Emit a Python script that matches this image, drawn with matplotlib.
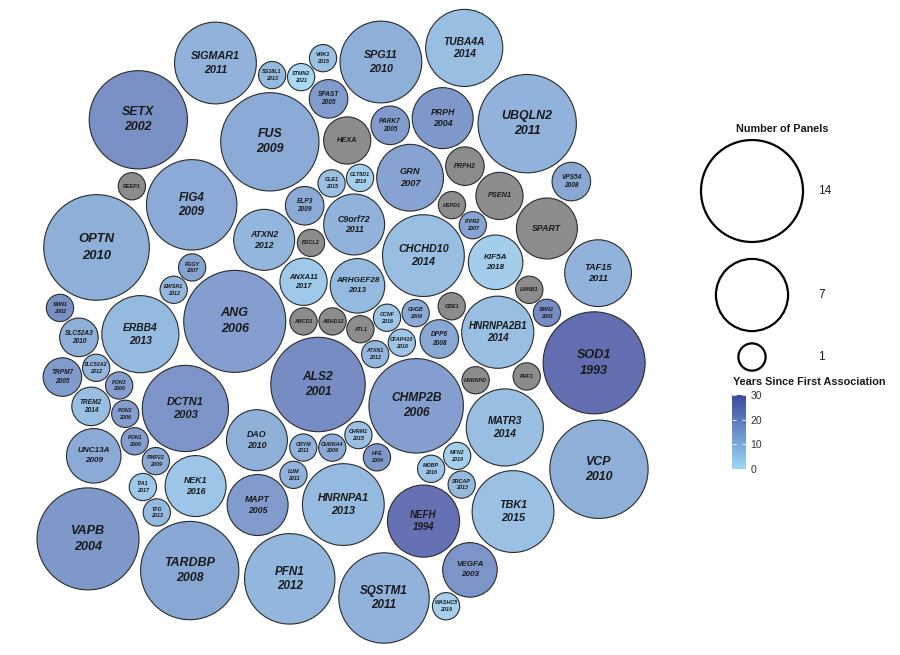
import numpy as np
import matplotlib
matplotlib.use("Agg")
import matplotlib.pyplot as plt
from matplotlib.patches import Circle
from matplotlib.colors import LinearSegmentedColormap, Normalize
from matplotlib.cm import ScalarMappable

plt.rcParams['font.family'] = ['Liberation Sans', 'DejaVu Sans']

# genes in alphabetical order (the packing places them in this order)
genes = ["ABCD1", "ABHD12", "ALS2", "ANG", "ANXA11", "ARHGEF28", "ATL1", "ATXN1",
         "ATXN2", "BSCL2", "C9orf72", "CCNF", "CFAP410", "CHCHD10", "CHGB", "CHMP2B",
         "CHRM1", "CHRNA4", "CRYM", "DAO", "DCTN1", "DPP6", "ELP3", "ERBB4", "EWSR1",
         "FGGY", "FIG4", "FUS", "GBE1", "GLE1", "GLT8D1", "GRN", "HEXA", "HFE",
         "HNRNPA1", "HNRNPA2B1", "HNRNPD", "HSPD1", "ITPR2", "KIF5A", "LMNB1", "LUM",
         "MAPT", "MATR3", "MFN2", "MOBP", "NEFH", "NEK1", "OPTN", "PARK7", "PFN1",
         "PMP22", "PON1", "PON2", "PON3", "PRF1", "PRPH", "PRPH2", "PSEN1", "REEP1",
         "SETX", "SIGMAR1", "SLC52A2", "SLC52A3", "SMN1", "SMN2", "SOD1", "SPART",
         "SPAST", "SPG11", "SQSTM1", "SRCAP", "SS18L1", "STMN2", "TAF15", "TARDBP",
         "TBK1", "TFG", "TIA1", "TREM2", "TRPM7", "TUBA4A", "UBQLN2", "UNC13A", "VAPB",
         "VCP", "VEGFA", "VPS54", "VRK1", "WASHC5"]

panels = [1, 1, 12, 14, 3, 4, 1, 1,
          5, 1, 5, 1, 1, 9, 1, 12,
          1, 1, 1, 5, 10, 2, 2, 8, 1,
          1, 11, 13, 1, 1, 1, 6, 3, 1,
          9, 7, 1, 1, 1, 4, 1, 1,
          5, 8, 1, 1, 7, 5, 15, 2, 11,
          1, 1, 1, 1, 1, 5, 2, 3, 1,
          13, 9, 1, 2, 1, 1, 14, 5,
          2, 9, 11, 1, 1, 1, 6, 13,
          9, 1, 1, 2, 2, 8, 13, 4, 14,
          13, 4, 2, 1, 1]

years = [None, None, 2001, 2006, 2017, 2013, None, 2012,
         2012, None, 2011, 2016, 2016, 2014, 2009, 2006,
         2015, 2009, 2011, 2010, 2003, 2008, 2009, 2013, 2012,
         2007, 2009, 2009, None, 2015, 2019, 2007, None, 2004,
         2013, 2014, None, None, 2007, 2018, None, 2011,
         2005, 2014, 2019, 2016, 1994, 2016, 2010, 2005, 2012,
         2009, 2006, 2006, 2006, None, 2004, None, None, None,
         2002, 2011, 2012, 2010, 2002, 2001, 1993, None,
         2005, 2010, 2011, 2013, 2013, 2021, 2011, 2008,
         2015, 2013, 2017, 2014, 2005, 2014, 2011, 2009, 2004,
         2010, 2003, 2008, 2015, 2019]

ref_year = 2023
legend_panels = [14, 7, 1]
cbar_ticks = [0, 10, 20, 30]


def pack(radii):
    # front-chain circle packing (Wang et al. 2006): each new circle is put
    # next to the chain circle nearest the origin and its successor
    n = len(radii)
    r = np.asarray(radii, float)
    x = np.zeros(n)
    y = np.zeros(n)
    nxt = list(range(n))
    prv = list(range(n))

    def place(a, b, c):
        db = r[a] + r[c]
        dx = x[b] - x[a]
        dy = y[b] - y[a]
        if db and (dx or dy):
            da = r[b] + r[c]
            dc = dx * dx + dy * dy
            da *= da
            db *= db
            t = 0.5 + (db - da) / (2 * dc)
            h = np.sqrt(max(0.0, 2 * da * (db + dc) - (db - dc) ** 2 - da * da)) / (2 * dc)
            x[c] = x[a] + t * dx + h * dy
            y[c] = y[a] + t * dy - h * dx
        else:
            x[c] = x[a] + db
            y[c] = y[a]

    def hits(a, b):
        dx = x[b] - x[a]
        dy = y[b] - y[a]
        dr = r[a] + r[b]
        return 0.999 * dr * dr > dx * dx + dy * dy

    def insert(a, b):
        c = nxt[a]
        nxt[a] = b
        prv[b] = a
        nxt[b] = c
        prv[c] = b

    def splice(a, b):
        nxt[a] = b
        prv[b] = a

    x[0] = -r[0]
    x[1] = r[1]
    place(0, 1, 2)
    a, b, c = 0, 1, 2
    insert(a, c)
    insert(c, b)
    b = nxt[a]
    i = 3
    while i < n:
        c = i
        place(a, b, c)
        hit = False
        s1 = 1
        s2 = 1
        j = nxt[b]
        while j != b:
            if hits(j, c):
                hit = True
                break
            j = nxt[j]
            s1 += 1
        if hit:
            k = prv[a]
            while k != prv[j]:
                if hits(k, c):
                    break
                k = prv[k]
                s2 += 1
            if s1 < s2 or (s1 == s2 and r[b] < r[a]):
                b = j
                splice(a, b)
            else:
                a = k
                splice(a, b)
        else:
            insert(a, c)
            best = a
            bd = x[a] ** 2 + y[a] ** 2
            m = nxt[a]
            while m != a:
                d = x[m] ** 2 + y[m] ** 2
                if d < bd:
                    best, bd = m, d
                m = nxt[m]
            a = best
            b = nxt[a]
            i += 1
    return x, y


# layout in "area" units, then scale to pixels
rad = np.sqrt(np.array(panels, float) / np.pi)
lx, ly = pack(rad)
PX = 14.5 / np.sqrt(1 / np.pi)   # px per layout unit
SHRINK = 0.94                     # gap between neighbours
lx = lx * PX
ly = ly * PX
lr = rad * PX

# put the cluster in the left part of the canvas
x0, x1 = (lx - lr).min(), (lx + lr).max()
y0, y1 = (ly - lr).min(), (ly + lr).max()
cx = lx - (x0 + x1) / 2 + (5 + 680) / 2
cy = ly - (y0 + y1) / 2 + (655 - (2 + 651) / 2)

low = np.array([154, 216, 246]) / 255
high = np.array([60, 74, 156]) / 255
cmap = LinearSegmentedColormap.from_list("yrs", [low, high])
norm = Normalize(0, 30)
gray = "#8c8c8c"

fig = plt.figure(figsize=(9, 6.55), dpi=100)
ax = fig.add_axes([0, 0, 1, 1])
ax.set_xlim(0, 900)
ax.set_ylim(0, 655)
ax.axis('off')

PT = 72 / 100  # pt per px
for g, p, yr, xx, yy, rr in zip(genes, panels, years, cx, cy, lr):
    dr = rr * SHRINK
    if yr is None:
        fc = gray
        alpha = 1
    else:
        fc = cmap(norm(ref_year - yr))
        alpha = 0.8
    ax.add_patch(Circle((xx, yy), dr, facecolor=fc, alpha=alpha, edgecolor='none'))
    ax.add_patch(Circle((xx, yy), dr, facecolor='none', edgecolor='#2b2b2b', lw=0.8))
    fs = 2.0 + 0.14 * dr
    off = 0.62 * fs / PT
    if yr is None:
        ax.text(xx, yy, g, ha='center', va='center', fontsize=fs,
                fontweight='bold', fontstyle='italic', color='#1a1a1a')
    else:
        ax.text(xx, yy + off, g, ha='center', va='center', fontsize=fs,
                fontweight='bold', fontstyle='italic', color='#1a1a1a')
        ax.text(xx, yy - off, str(yr), ha='center', va='center', fontsize=fs,
                fontweight='bold', fontstyle='italic', color='#1a1a1a')

# size legend
ax.text(782, 655 - 129, "Number of Panels", ha='center', va='center',
        fontsize=7.8, fontweight='bold', color='#1a1a1a')
leg_y = [655 - 191, 655 - 295, 655 - 357]
for p, yy in zip(legend_panels, leg_y):
    dr = np.sqrt(p / np.pi) * PX * SHRINK
    ax.add_patch(Circle((752, yy), dr, facecolor='none', edgecolor='black', lw=1.6))
    ax.text(818, yy, str(p), ha='left', va='center', fontsize=8.5, color='#1a1a1a')

ax.text(733, 655 - 382, "Years Since First Association", ha='left', va='center',
        fontsize=7.8, fontweight='bold', color='#1a1a1a')

# colour bar
cax = fig.add_axes([732 / 900, (655 - 469) / 655, 14 / 900, 74 / 655])
cb = fig.colorbar(ScalarMappable(norm=norm, cmap=cmap), cax=cax, ticks=cbar_ticks)
cb.outline.set_visible(False)
cax.yaxis.set_ticks_position('both')
cax.tick_params(axis='y', direction='in', length=3, width=0.6, color='white',
                labelsize=7.5, labelcolor='#333333', pad=3, labelleft=False,
                labelright=True)

fig.savefig("out.png", dpi=100)
